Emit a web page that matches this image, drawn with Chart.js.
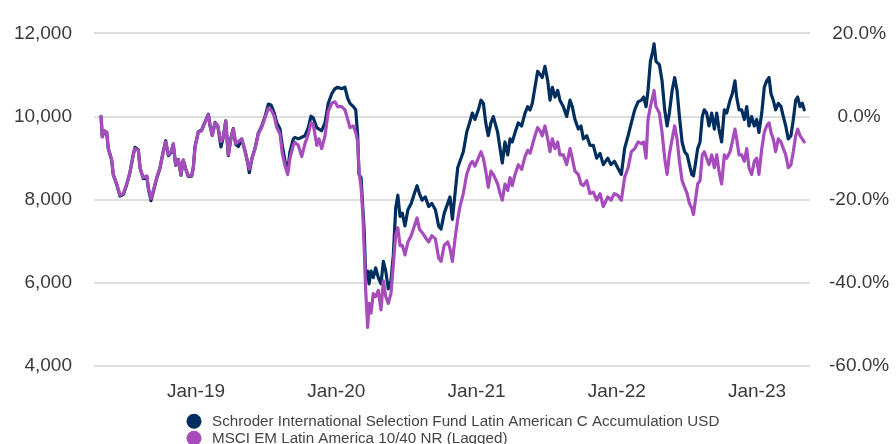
<!DOCTYPE html>
<html>
<head>
<meta charset="utf-8">
<title>Latin America fund vs benchmark</title>
<script src="https://cdn.jsdelivr.net/npm/chart.js@4.4.1/dist/chart.umd.min.js"></script>
<style>
  html, body { margin: 0; padding: 0; background: #ffffff; }
  #wrap { position: relative; width: 896px; height: 444px; }
</style>
</head>
<body>
<div id="wrap"><canvas id="chart"></canvas></div>
<script>
// Observation dates as decimal years (growth of 10,000 from end of April 2018)
const dates = [
  2018.323, 2018.332, 2018.346, 2018.363, 2018.375, 2018.399, 2018.410, 2018.435, 2018.458, 2018.482,
  2018.506, 2018.529, 2018.553, 2018.565, 2018.589, 2018.601, 2018.624, 2018.649, 2018.660, 2018.679,
  2018.696, 2018.720, 2018.743, 2018.767, 2018.784, 2018.803, 2018.822, 2018.838, 2018.855, 2018.874,
  2018.893, 2018.909, 2018.927, 2018.945, 2018.969, 2018.981, 2018.993, 2019.016, 2019.041, 2019.059,
  2019.088, 2019.100, 2019.116, 2019.136, 2019.155, 2019.178, 2019.195, 2019.212, 2019.230, 2019.250,
  2019.266, 2019.283, 2019.302, 2019.326, 2019.349, 2019.369, 2019.380, 2019.400, 2019.421, 2019.444,
  2019.468, 2019.492, 2019.516, 2019.535, 2019.558, 2019.575, 2019.599, 2019.615, 2019.635, 2019.654,
  2019.670, 2019.694, 2019.706, 2019.729, 2019.754, 2019.777, 2019.801, 2019.820, 2019.836, 2019.861,
  2019.877, 2019.896, 2019.920, 2019.943, 2019.968, 2019.991, 2020.010, 2020.039, 2020.062, 2020.082,
  2020.098, 2020.122, 2020.139, 2020.153, 2020.162, 2020.177, 2020.189, 2020.200, 2020.210, 2020.224,
  2020.234, 2020.248, 2020.264, 2020.281, 2020.300, 2020.319, 2020.336, 2020.353, 2020.371, 2020.390,
  2020.407, 2020.424, 2020.439, 2020.455, 2020.471, 2020.490, 2020.511, 2020.535, 2020.557, 2020.576,
  2020.593, 2020.612, 2020.635, 2020.659, 2020.681, 2020.707, 2020.730, 2020.747, 2020.770, 2020.795,
  2020.811, 2020.828, 2020.847, 2020.866, 2020.882, 2020.906, 2020.930, 2020.954, 2020.970, 2020.989,
  2021.013, 2021.032, 2021.049, 2021.066, 2021.084, 2021.103, 2021.120, 2021.151, 2021.168, 2021.184,
  2021.203, 2021.223, 2021.239, 2021.255, 2021.275, 2021.298, 2021.322, 2021.346, 2021.365, 2021.382,
  2021.398, 2021.417, 2021.436, 2021.453, 2021.469, 2021.488, 2021.508, 2021.524, 2021.541, 2021.560,
  2021.579, 2021.595, 2021.619, 2021.643, 2021.667, 2021.683, 2021.702, 2021.726, 2021.745, 2021.762,
  2021.786, 2021.809, 2021.833, 2021.857, 2021.881, 2021.904, 2021.936, 2021.959, 2021.983, 2022.007,
  2022.033, 2022.056, 2022.081, 2022.104, 2022.128, 2022.152, 2022.176, 2022.192, 2022.209, 2022.223,
  2022.240, 2022.256, 2022.266, 2022.280, 2022.304, 2022.323, 2022.342, 2022.359, 2022.375, 2022.395,
  2022.413, 2022.430, 2022.447, 2022.466, 2022.484, 2022.502, 2022.518, 2022.535, 2022.547, 2022.558,
  2022.577, 2022.594, 2022.610, 2022.624, 2022.641, 2022.658, 2022.677, 2022.696, 2022.713, 2022.729,
  2022.748, 2022.767, 2022.784, 2022.808, 2022.824, 2022.843, 2022.855, 2022.872, 2022.891, 2022.910,
  2022.927, 2022.943, 2022.962, 2022.981, 2022.998, 2023.014, 2023.034, 2023.052, 2023.069, 2023.086,
  2023.100, 2023.116, 2023.133, 2023.152, 2023.171, 2023.188, 2023.205, 2023.223, 2023.242, 2023.259,
  2023.276, 2023.290, 2023.307, 2023.323, 2023.337
];

// Schroder ISF Latin American C Acc USD
const fundValues = [
  10000, 9520, 9650, 9620, 9220, 8950, 8600, 8360, 8090, 8130,
  8370, 8660, 9100, 9260, 9200, 8760, 8510, 8560, 8270, 7980,
  8200, 8520, 8760, 9170, 9420, 9060, 9140, 9330, 8830, 8970,
  8590, 8950, 8740, 8560, 8570, 8780, 9280, 9630, 9680, 9830,
  10060, 9790, 9550, 9860, 9780, 9270, 9510, 9900, 9060, 9500,
  9710, 9330, 9280, 9460, 9180, 8880, 8650, 9010, 9240, 9600,
  9760, 10000, 10300, 10280, 10085, 9860, 9700, 9310, 8930, 8700,
  9160, 9465, 9500, 9465, 9505, 9540, 9735, 10010, 9970, 9735,
  9700, 9660, 9850, 10320, 10550, 10670, 10705, 10670, 10705, 10435,
  10320, 10240, 10163, 9540, 8610, 8535, 7837, 7215, 6130, 6285,
  5980, 6285, 6130, 6365, 6130, 5980, 6520, 6285, 5860, 6050,
  6675, 7800, 8110, 7600, 7680, 7372, 7760, 7915, 8150, 8340,
  8150, 7990, 8070, 7837, 7915, 7760, 7372, 7295, 7680, 7915,
  8070, 7530, 8150, 8770, 8925, 9155, 9620, 9890, 10085, 9930,
  10163, 10395, 10320, 9850, 9540, 9850, 10000, 9620, 9230, 8885,
  9390, 9080, 9465, 9390, 9620, 9850, 9775, 10085, 10240, 10160,
  10320, 10705, 11090, 11015, 10940, 11210, 10860, 10395, 10705, 10470,
  10628, 10395, 10240, 10000, 10395, 10240, 9930, 9700, 9775, 9465,
  9540, 9310, 9310, 9000, 9115, 8845, 9000, 8845, 8925, 8770,
  8610, 9230, 9540, 9850, 10163, 10355, 10395, 10470, 10240, 10628,
  11326, 11558, 11750, 11326, 11250, 10860, 10163, 9775, 10085, 10628,
  10940, 10628, 10000, 9390, 9155, 9080, 8845, 8610, 8575, 8800,
  9230, 9390, 10000, 10163, 10085, 9775, 10085, 9700, 10085, 9700,
  9390, 10163, 10085, 10395, 10550, 10860, 10470, 10163, 10163, 9930,
  10240, 9775, 10000, 9775, 9930, 9620, 10085, 10705, 10860, 10940,
  10550, 10395, 10163, 10320, 10240, 10000, 9775, 9465, 9540, 9930,
  10395, 10470, 10240, 10320, 10163
];

// MSCI EM Latin America 10/40 NR (Lagged)
const indexValues = [
  10000, 9510, 9660, 9630, 9233, 8960, 8610, 8380, 8115, 8150,
  8380, 8650, 9080, 9230, 9190, 8770, 8535, 8575, 8300, 8030,
  8225, 8535, 8770, 9155, 9390, 9080, 9160, 9350, 8845, 8960,
  8610, 8960, 8730, 8575, 8580, 8770, 9270, 9620, 9660, 9814,
  10046, 9775, 9540, 9850, 9775, 9400, 9505, 9890, 9080, 9505,
  9700, 9350, 9400, 9465, 9190, 8885, 8740, 9000, 9230, 9580,
  9735, 9970, 10200, 10163, 10005, 9745, 9580, 9120, 8815, 8605,
  9000, 9310, 9380, 9310, 9040, 9350, 9580, 9850, 9815, 9310,
  9465, 9230, 9540, 10125, 10320, 10355, 10240, 10240, 10163, 9930,
  9735, 9775, 9620, 9395, 8700, 8300, 7680, 6750, 5820, 4930,
  5510, 5280, 5745, 5670, 5820, 5355, 6050, 5670, 5510, 5745,
  6440, 7150, 7330, 6900, 6907, 6675, 6985, 7140, 7372, 7565,
  7295, 7215, 7100, 6985, 7140, 7060, 6600, 6520, 6907, 6985,
  6830, 6520, 7060, 7530, 7837, 8150, 8610, 8845, 8925, 8810,
  9000, 9155, 9000, 8690, 8300, 8690, 8610, 8380, 8150, 7990,
  8380, 8225, 8535, 8340, 8610, 8845, 8730, 9040, 9190, 9120,
  9310, 9540, 9735, 9660, 9540, 9775, 9465, 9155, 9465, 9230,
  9390, 9080, 9080, 8845, 9230, 9000, 8690, 8610, 8380, 8340,
  8460, 8150, 8185, 7990, 8150, 7837, 8070, 7990, 8150, 8110,
  7990, 8535, 8770, 9155, 9230, 9390, 9350, 9390, 9000, 9930,
  10240, 10470, 10628, 10240, 10085, 9620, 9000, 8610, 9080, 9465,
  9775, 9465, 8925, 8460, 8300, 8150, 7915, 7800, 7645, 7915,
  8380, 8460, 9080, 9155, 9000, 8845, 9080, 8770, 9080, 8690,
  8380, 9080, 9000, 9155, 9390, 9700, 9465, 9080, 9080, 8925,
  9230, 8770, 8610, 8925, 9000, 8610, 9230, 9620, 9775, 9850,
  9620, 9465, 9155, 9465, 9390, 9230, 9080, 8770, 8845, 9155,
  9540, 9700, 9540, 9465, 9390
];

const seriesNames = [
  'Schroder International Selection Fund Latin American C Accumulation USD',
  'MSCI EM Latin America 10/40 NR (Lagged)'
];
const seriesColors = ['#002e5e', '#a64cbc'];

// Year boundaries shown on the time axis
const yearTicks = [2019, 2020, 2021, 2022, 2023];
const yearLabels = ['Jan-19', 'Jan-20', 'Jan-21', 'Jan-22', 'Jan-23'];

// Left axis (value of 10,000) and right axis (% change) ticks
const valueTicks = [4000, 6000, 8000, 10000, 12000];
const percentTicks = [-60, -40, -20, 0, 20];

const FONT = "'Liberation Sans', Arial, Helvetica, sans-serif";
Chart.defaults.font.family = FONT;
Chart.defaults.color = '#3a3a3a';

function toPoints(values) {
  return values.map((v, i) => ({ x: dates[i], y: v }));
}

// Two-row legend with round markers under the time axis
const stackedLegend = {
  id: 'stackedLegend',
  afterDraw(chart) {
    const ctx = chart.ctx;
    const area = chart.chartArea;
    const markerX = 194;
    const textX = 212;
    const firstY = area.bottom + 55;
    const rowGap = 17;
    ctx.save();
    ctx.font = '15.2px ' + FONT;
    ctx.textBaseline = 'middle';
    ctx.textAlign = 'left';
    seriesNames.forEach((name, i) => {
      const y = firstY + i * rowGap;
      ctx.beginPath();
      ctx.arc(markerX, y, 7.5, 0, Math.PI * 2);
      ctx.fillStyle = seriesColors[i];
      ctx.fill();
      ctx.fillStyle = '#444444';
      ctx.fillText(name, textX, y + 0.5);
    });
    ctx.restore();
  }
};

const lineStyle = {
  borderWidth: 3.2,
  pointRadius: 0,
  tension: 0,
  borderJoinStyle: 'round',
  borderCapStyle: 'round',
  yAxisID: 'y'
};

new Chart(document.getElementById('chart'), {
  type: 'line',
  data: {
    datasets: [
      Object.assign({
        label: seriesNames[0],
        data: toPoints(fundValues),
        borderColor: seriesColors[0],
        backgroundColor: seriesColors[0],
        order: 1
      }, lineStyle),
      Object.assign({
        label: seriesNames[1],
        data: toPoints(indexValues),
        borderColor: seriesColors[1],
        backgroundColor: seriesColors[1],
        order: 0
      }, lineStyle)
    ]
  },
  options: {
    responsive: true,
    maintainAspectRatio: false,
    animation: false,
    devicePixelRatio: 1,
    layout: { padding: { top: 21, bottom: 27, left: 0, right: 0 } },
    plugins: {
      legend: { display: false },
      tooltip: { enabled: false }
    },
    scales: {
      x: {
        type: 'linear',
        min: 2018.2727,
        max: 2023.378,
        grid: { display: false, drawTicks: false },
        border: { display: false },
        afterBuildTicks(scale) {
          scale.ticks = yearTicks.map(v => ({ value: v }));
        },
        ticks: {
          autoSkip: false,
          maxRotation: 0,
          padding: 14,
          font: { size: 19 },
          callback(value) {
            const i = yearTicks.indexOf(value);
            return i >= 0 ? yearLabels[i] : '';
          }
        }
      },
      y: {
        position: 'left',
        min: 4000,
        max: 12000,
        afterBuildTicks(scale) {
          scale.ticks = valueTicks.map(v => ({ value: v }));
        },
        afterFit(scale) { scale.width = 94; },
        grid: { color: '#dedede', lineWidth: 2, drawTicks: false },
        border: { display: false },
        ticks: {
          padding: 22,
          font: { size: 19 },
          callback(value) { return value.toLocaleString('en-US'); }
        }
      },
      y2: {
        position: 'right',
        min: -60,
        max: 20,
        afterBuildTicks(scale) {
          scale.ticks = percentTicks.map(v => ({ value: v }));
        },
        afterFit(scale) { scale.width = 86; },
        grid: { display: false, drawTicks: false },
        border: { display: false },
        ticks: {
          padding: 19,
          crossAlign: 'center',
          font: { size: 19 },
          callback(value) { return value.toFixed(1) + '%'; }
        }
      }
    }
  },
  plugins: [stackedLegend]
});
</script>
</body>
</html>
